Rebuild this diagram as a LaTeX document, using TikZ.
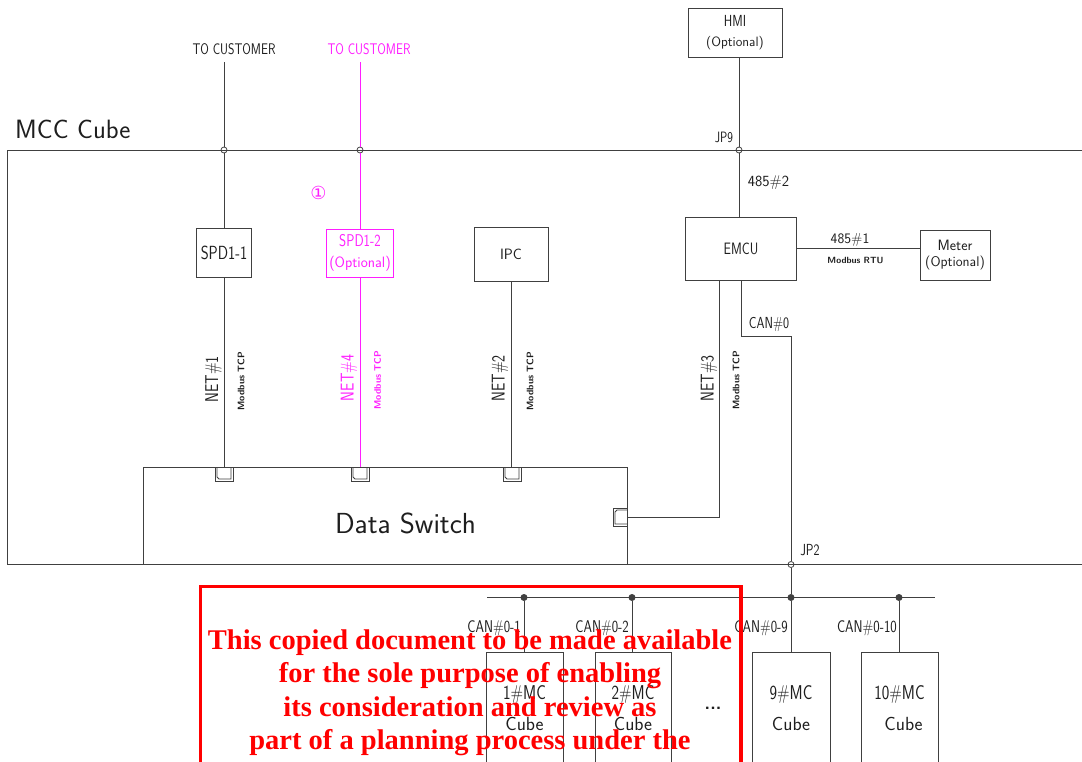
\documentclass[tikz,border=0pt]{standalone}
\usepackage{fontspec}
\newfontfamily\cadn{Latin Modern Sans}[FakeStretch=0.8]
\newfontfamily\cadr{Latin Modern Sans}
\newfontfamily\wmfont{Liberation Serif}
\newfontfamily\symfont{DejaVu Sans}
\newcommand\myfs[2]{\fontsize{#1pt}{#2pt}\selectfont}
\definecolor{linegray}{HTML}{404040}
\definecolor{txt}{HTML}{1E1E1E}
\definecolor{mag}{HTML}{FF1EFF}
\definecolor{wmred}{HTML}{FF0000}
\tikzset{
  wire/.style={draw=linegray, line width=0.95pt},
  mwire/.style={draw=mag, line width=0.95pt},
  box/.style={draw=linegray, line width=0.95pt, inner sep=0pt, align=center, text=txt},
  mbox/.style={draw=mag, line width=0.95pt, inner sep=0pt, align=center, text=mag},
  lbl/.style={inner sep=0pt, text=txt},
  jn/.style={circle, draw=linegray, minimum size=6pt, inner sep=0pt, line width=0.8pt},
  dotn/.style={circle, fill=linegray, minimum size=7pt, inner sep=0pt},
  wm/.style={inner sep=0pt, anchor=base, text=wmred, font=\wmfont\bfseries\myfs{28.5}{33}},
  rjport/.pic={
    \draw[linegray, line width=0.9pt] (-9,0) rectangle (9,14);
    \draw[linegray, line width=0.9pt] (-7,0) -- (-7,10) -- (-5,12) -- (7,12) -- (7,0);
  }
}
\begin{document}
\begin{tikzpicture}[x=1pt,y=-1pt]
\useasboundingbox (0,0) rectangle (1082,761);
\fill[white] (0,0) rectangle (1082,761);
\clip (0,0) rectangle (1082,761);

% frames
\node[box, minimum width=1093pt, minimum height=414pt] (mcc) at (553.5,357) {};
\node[lbl, anchor=base west, font=\cadr\myfs{26.5}{26.5}] (mcclbl) at (15,138) {MCC Cube};
\node[box, minimum width=484pt, minimum height=97pt] (sw) at (385,515.5) {};
\node[lbl, anchor=base, font=\cadr\myfs{29}{29}] (swlbl) at (405.5,533) {Data Switch};

% top labels
\node[lbl, anchor=base, inner ysep=8pt, font=\cadn\myfs{15.4}{16}] (tc1) at (234,54) {TO CUSTOMER};
\node[lbl, anchor=base, inner ysep=8pt, text=mag, font=\cadn\myfs{15.4}{16}] (tc2) at (369,54) {TO CUSTOMER};

% boxes
\node[box, minimum width=55pt, minimum height=49pt, font=\cadn\myfs{19}{19}] (spd1) at (224,252.5) {SPD1-1};
\node[mbox, minimum width=67pt, minimum height=48pt, font=\cadr\myfs{15}{21.5}] (spd2) at (360,253) {{\cadn\myfs{17}{21.5}SPD1-2}\\(Optional)};
\node[box, minimum width=74pt, minimum height=54pt, font=\cadr\myfs{15}{15}] (ipc) at (511,254) {IPC};
\node[box, minimum width=111pt, minimum height=63pt, font=\cadn\myfs{16.5}{16.5}] (emcu) at (741,248.5) {EMCU};
\node[box, minimum width=94pt, minimum height=49pt, font=\cadr\myfs{13.5}{19.5}] (hmi) at (735,32.5) {{\cadn\myfs{16}{19.5}HMI}\\(Optional)};
\node[box, minimum width=70pt, minimum height=50pt, font=\cadr\myfs{14}{16.5}] (meter) at (955,255) {{\cadr\myfs{15}{16.5}Meter}\\(Optional)};

% junctions
\node[jn] (j1) at (224,150) {};
\node[jn] (j2) at (360,150) {};
\node[jn] (j9) at (739,150) {};
\node[jn] (jp2) at (791,564.5) {};
\node[lbl, anchor=base, font=\cadn\myfs{15}{15}] (jp9lbl) at (724,142) {JP9};
\node[lbl, anchor=base, font=\cadn\myfs{16}{16}] (jp2lbl) at (810,555) {JP2};
\node[lbl, anchor=base, text=mag, font=\symfont\myfs{18}{18}] (note1) at (318.5,199.5) {①};

% customer lines
\draw[wire] (tc1.south -| spd1.north) -- (j1) -- (spd1.north);
\draw[wire] (spd1.south) -- (spd1.south |- sw.north);
\draw[mwire] (tc2.south -| spd2.north) -- (j2) -- (spd2.north);
\draw[mwire] (spd2.south) -- (spd2.south |- sw.north);
\draw[wire] (ipc.south) -- (ipc.south |- sw.north);

% HMI / EMCU / meter
\draw[wire] (hmi.south -| j9) -- (j9) -- (emcu.north -| j9);
\node[lbl, anchor=base, font=\cadr\myfs{15.5}{15.5}] (l4852) at (768.5,186) {485\#2};
\draw[wire] (emcu.east) -- (emcu.east -| meter.west);
\node[lbl, anchor=base, font=\cadr\myfs{14.5}{14.5}] (l4851) at (850,243) {485\#1};
\node[lbl, anchor=base, font=\cadr\bfseries\myfs{9}{9}] (lrtu) at (855.5,263) {Modbus RTU};

% NET#3 to switch
\coordinate (c3) at (719.5,517);
\draw[wire] (c3 |- emcu.south) -- (c3) -- (c3 -| sw.east);

% CAN#0
\coordinate (can1) at (741,336);
\node[dotn] (d1) at (524,597.5) {};
\node[dotn] (d2) at (632,597.5) {};
\node[dotn] (d9) at (791,597.5) {};
\node[dotn] (d10) at (899,597.5) {};
\coordinate (busL) at (487,597.5);
\coordinate (busR) at (935,597.5);
\draw[wire] (emcu.south) -- (can1) -| (jp2) -- (d9);
\node[lbl, anchor=base, font=\cadn\myfs{16}{16}] (lcan0) at (769,328) {CAN\#0};
\draw[wire] (busL) -- (busR);

% ports
\pic (p1) at (224,467) {rjport};
\pic (p2) at (360,467) {rjport};
\pic (p3) at (512,467) {rjport};
\pic[rotate=-90] (p4) at (627,517) {rjport};

% net labels
\node[lbl, rotate=90, font=\cadn\myfs{18.5}{18.5}] (n1) at (213.5,379.5) {NET\#1};
\node[lbl, rotate=90, font=\cadr\bfseries\myfs{9.5}{9.5}] (m1) at (241,381) {Modbus TCP};
\node[lbl, rotate=90, text=mag, font=\cadn\myfs{18.5}{18.5}] (n4) at (349,378) {NET\#4};
\node[lbl, rotate=90, text=mag, font=\cadr\bfseries\myfs{9.5}{9.5}] (m4) at (377.5,380) {Modbus TCP};
\node[lbl, rotate=90, font=\cadn\myfs{18.5}{18.5}] (n2) at (500,378.5) {NET\#2};
\node[lbl, rotate=90, font=\cadr\bfseries\myfs{9.5}{9.5}] (m2) at (530,381) {Modbus TCP};
\node[lbl, rotate=90, font=\cadn\myfs{18.5}{18.5}] (n3) at (709,378.5) {NET\#3};
\node[lbl, rotate=90, font=\cadr\bfseries\myfs{9.5}{9.5}] (m3) at (736,380) {Modbus TCP};

% MC cubes
\node[box, minimum width=77pt, minimum height=112pt, font=\cadr\myfs{19}{31.5}] (mc1) at (524.5,708) {{\cadn\myfs{20}{31.5}1\#MC}\\Cube};
\node[box, minimum width=76pt, minimum height=112pt, font=\cadr\myfs{19}{31.5}] (mc2) at (633,708) {{\cadn\myfs{20}{31.5}2\#MC}\\Cube};
\node[box, minimum width=78pt, minimum height=112pt, font=\cadr\myfs{19}{31.5}] (mc9) at (791,708) {{\cadn\myfs{20}{31.5}9\#MC}\\Cube};
\node[box, minimum width=77pt, minimum height=112pt, font=\cadr\myfs{19}{31.5}] (mc10) at (899.5,708) {{\cadn\myfs{20}{31.5}10\#MC}\\\hspace{8pt}Cube};
\draw[wire] (d1) -- (d1 |- mc1.north);
\draw[wire] (d2) -- (d2 |- mc2.north);
\draw[wire] (d9) -- (d9 |- mc9.north);
\draw[wire] (d10) -- (d10 |- mc10.north);
\node[lbl, anchor=base east, font=\cadn\myfs{17}{17}] (lc1) at (521,632) {CAN\#0-1};
\node[lbl, anchor=base east, font=\cadn\myfs{17}{17}] (lc2) at (629,632) {CAN\#0-2};
\node[lbl, anchor=base east, font=\cadn\myfs{17}{17}] (lc9) at (788,632) {CAN\#0-9};
\node[lbl, anchor=base east, font=\cadn\myfs{17}{17}] (lc10) at (897,632) {CAN\#0-10};
\node[lbl, font=\cadr\bfseries\myfs{18}{18}] (dots) at (713,708) {...};

% watermark
\draw[wmred, line width=3.5pt] (200.5,586.5) rectangle (741,775);
\node[wm] (w1) at (470,649) {This copied document to be made available};
\node[wm] (w2) at (470,682.5) {for the sole purpose of enabling};
\node[wm] (w3) at (470,716.5) {its consideration and review as};
\node[wm] (w4) at (470,749.5) {part of a planning process under the};
\end{tikzpicture}
\end{document}
